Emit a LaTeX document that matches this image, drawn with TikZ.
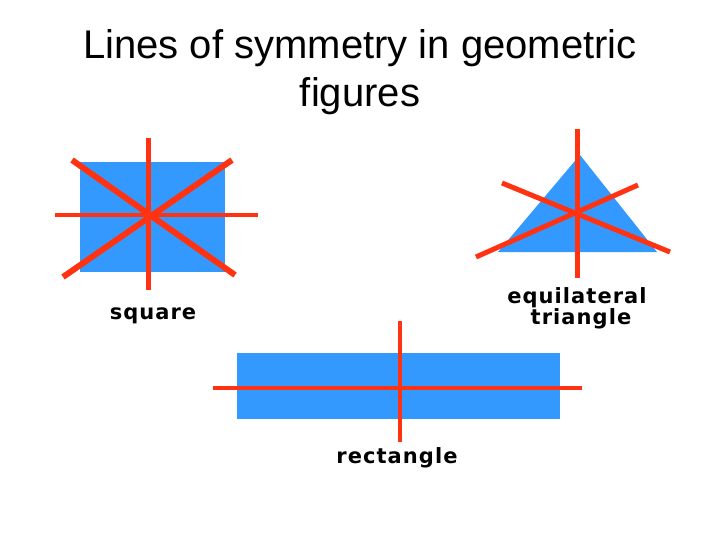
\documentclass[tikz,border=0pt]{standalone}
\usepackage{fontspec}
\setmainfont{Liberation Sans}
\newfontfamily\labelfont[LetterSpace=5]{DejaVu Sans}
\usetikzlibrary{calc}
\definecolor{shapeblue}{RGB}{51,153,255}
\definecolor{symred}{RGB}{255,51,17}
\tikzstyle{figure}=[fill=shapeblue]
\tikzstyle{symline}=[draw=symred,line width=5pt]
\tikzstyle{caption}=[inner sep=0pt,anchor=base,font=\labelfont\bfseries\fontsize{21}{23}\selectfont]

\begin{document}
\begin{tikzpicture}[x=1pt,y=-1pt]
	\useasboundingbox (0,0) rectangle (720,540);
	
	\node[align=center,inner sep=0pt,font=\fontsize{40}{48}\selectfont] (title) at (360,72) {Lines of symmetry in geometric\\figures};
	
	% square
	\fill[figure] (80,162) rectangle (225,272);
	\coordinate (sqc) at (148,215);
	\draw[symline] (148,138) -- (148,290);
	\draw[symline,line width=4pt] (55,215) -- (258,215);
	\draw[symline,line width=6pt] (72,160) -- (235,275);
	\draw[symline,line width=6pt] (63,277) -- (232,160);
	\node[caption] (sqlab) at (153,319) {square};
	
	% triangle
	\fill[figure] (580,155) -- (498,252) -- (657,252) -- cycle;
	\draw[symline] (577,129) -- (577,278);
	\draw[symline] (502,183) -- (670,252);
	\draw[symline] (476,257) -- (638,185);
	\node[caption] (trilab1) at (577,303) {equilateral};
	\node[caption] (trilab2) at (581,324) {triangle};
	
	% rectangle
	\fill[figure] (237,353) rectangle (560,419);
	\draw[symline,line width=4pt] (400,321) -- (400,442);
	\draw[symline,line width=4pt] (213,388) -- (582,388);
	\node[caption] (rectlab) at (397,463) {rectangle};
\end{tikzpicture}
\end{document}
